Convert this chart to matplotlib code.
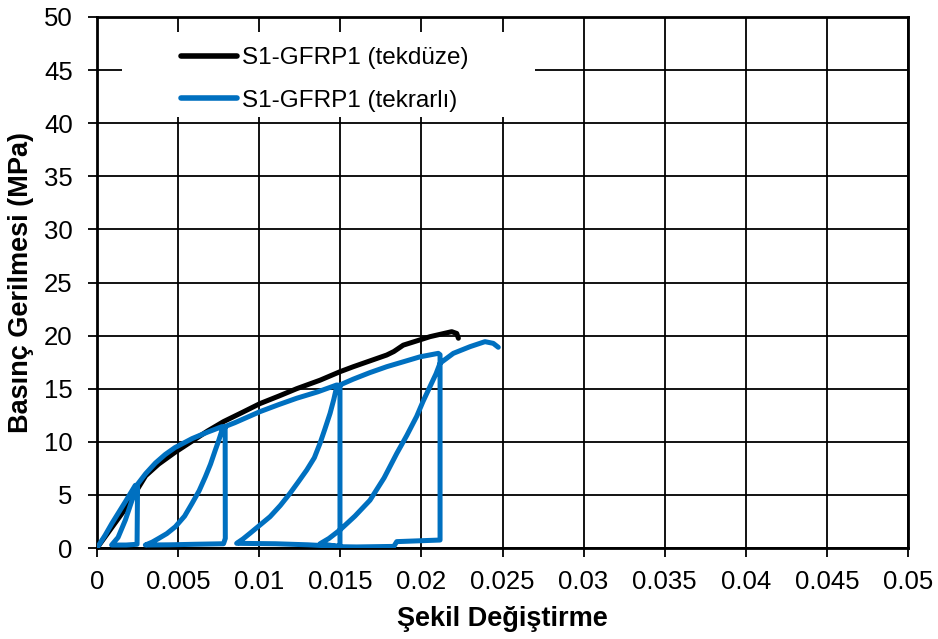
import matplotlib
matplotlib.use("Agg")
import matplotlib.pyplot as plt
from matplotlib.patches import Rectangle

plt.rcParams['font.family'] = ['Liberation Sans', 'DejaVu Sans']

mono_strain = [0, 0.0009, 0.00175, 0.0024, 0.0030, 0.0038, 0.0048, 0.0059, 0.0068, 0.0078,
               0.0090, 0.01005, 0.0112, 0.01231, 0.01375, 0.01498, 0.0158, 0.01786, 0.0183,
               0.01888, 0.01971, 0.02053, 0.02187, 0.02218, 0.02228]
mono_stress = [0, 1.9, 3.7, 5.3, 6.8, 7.9, 9.0, 10.1, 11.0, 11.9,
               12.8, 13.6, 14.3, 15.0, 15.8, 16.6, 17.07, 18.17, 18.5,
               19.1, 19.5, 19.9, 20.37, 20.2, 19.75]

cyc_strain = [0, 0.0005, 0.00092, 0.00175, 0.00236,
              0.0025, 0.00247, 0.0018, 0.0009,
              0.0013, 0.00175, 0.00216, 0.0025,
              0.0030, 0.0036, 0.0042, 0.0048, 0.00586, 0.0068, 0.00771,
              0.0079, 0.00791, 0.0078, 0.0060, 0.0045, 0.00298,
              0.0034, 0.0038, 0.0043, 0.00483, 0.0054, 0.00586, 0.0063, 0.00668, 0.0070,
              0.00729, 0.0075, 0.00771, 0.0080,
              0.0085, 0.01005, 0.0112, 0.01231, 0.0136, 0.01478,
              0.01498, 0.01498, 0.0149, 0.0130, 0.0110, 0.00861,
              0.0090, 0.00943, 0.0100, 0.01067, 0.0113, 0.0119, 0.0124, 0.01293, 0.0134,
              0.01375, 0.01405, 0.01437, 0.0146, 0.01478, 0.0152,
              0.0158, 0.0168, 0.01786, 0.01991, 0.02104,
              0.02115, 0.02115, 0.01848, 0.0183, 0.0160, 0.0150, 0.01375,
              0.0143, 0.01498, 0.0159, 0.01683, 0.0177, 0.01848, 0.0191, 0.01971, 0.0201,
              0.02053, 0.0209, 0.02115, 0.02197, 0.0230,
              0.02392, 0.02443, 0.02474]
cyc_stress = [0, 1.2, 2.32, 4.36, 5.9,
              5.8, 0.35, 0.28, 0.28,
              1.0, 2.64, 4.5, 6.0,
              7.0, 8.0, 8.8, 9.45, 10.3, 10.9, 11.43,
              11.4, 0.9, 0.4, 0.35, 0.3, 0.28,
              0.55, 0.9, 1.35, 2.0, 3.0, 4.2, 5.4, 6.7, 7.9,
              9.2, 10.1, 11.1, 11.5,
              11.8, 12.84, 13.5, 14.1, 14.7, 15.35,
              15.3, 0.28, 0.15, 0.3, 0.4, 0.44,
              0.85, 1.38, 2.1, 2.95, 4.0, 5.15, 6.2, 7.34, 8.5,
              9.86, 11.2, 12.68, 14.0, 15.2, 15.5,
              15.9, 16.5, 17.07, 18.0, 18.33,
              18.2, 0.75, 0.6, 0.15, 0.1, 0.12, 0.4,
              0.9, 1.7, 3.0, 4.5, 6.6, 8.9, 10.6, 12.4, 13.8,
              15.2, 16.4, 17.4, 18.33, 18.96,
              19.43, 19.27, 18.9]

x_ticks = [0, 0.005, 0.01, 0.015, 0.02, 0.025, 0.03, 0.035, 0.04, 0.045, 0.05]
x_labels = ['0', '0.005', '0.01', '0.015', '0.02', '0.025', '0.03', '0.035', '0.04', '0.045', '0.05']
y_ticks = [0, 5, 10, 15, 20, 25, 30, 35, 40, 45, 50]

fig = plt.figure(figsize=(9.38, 6.39), dpi=100)
ax = fig.add_axes([97/938, 1 - 548/639, (908-97)/938, (548-17)/639])

ax.plot(mono_strain, mono_stress, color='black', lw=3.6, solid_joinstyle='round',
        solid_capstyle='round', label='S1-GFRP1 (tekdüze)', zorder=3)
ax.plot(cyc_strain, cyc_stress, color='#0070C0', lw=3.6, solid_joinstyle='round',
        solid_capstyle='round', label='S1-GFRP1 (tekrarlı)', zorder=4)

ax.set_xlim(0, 0.05)
ax.set_ylim(0, 50)
ax.set_xticks(x_ticks)
ax.set_xticklabels(x_labels)
ax.set_yticks(y_ticks)
ax.grid(True, color='black', lw=1.3)
ax.set_axisbelow(True)
for s in ax.spines.values():
    s.set_linewidth(2)
ax.tick_params(direction='out', length=6.5, width=1.3, labelsize=18.5)
ax.tick_params(axis='x', pad=9)
ax.tick_params(axis='y', pad=11)

ax.set_xlabel('Şekil Değiştirme', fontsize=19.5, fontweight='bold', labelpad=9)
ax.set_ylabel('Basınç Gerilmesi (MPa)', fontsize=19.5, fontweight='bold', labelpad=7)

# white legend background (Excel style, no border)
ax.add_patch(Rectangle(((122-97)/811, (548-117)/531), (535-122)/811, 85/531,
                       transform=ax.transAxes, facecolor='white', edgecolor='none', zorder=2.5))

leg = ax.legend(loc='upper left', bbox_to_anchor=((181-97)/811, (548-47)/531), fontsize=17.5,
                frameon=False, handlelength=2.3, handletextpad=0.2,
                borderpad=0, labelspacing=0.85, borderaxespad=0)
for line in leg.get_lines():
    line.set_linewidth(4)
    line.set_solid_capstyle('round')

fig.savefig('out.png', dpi=100)
